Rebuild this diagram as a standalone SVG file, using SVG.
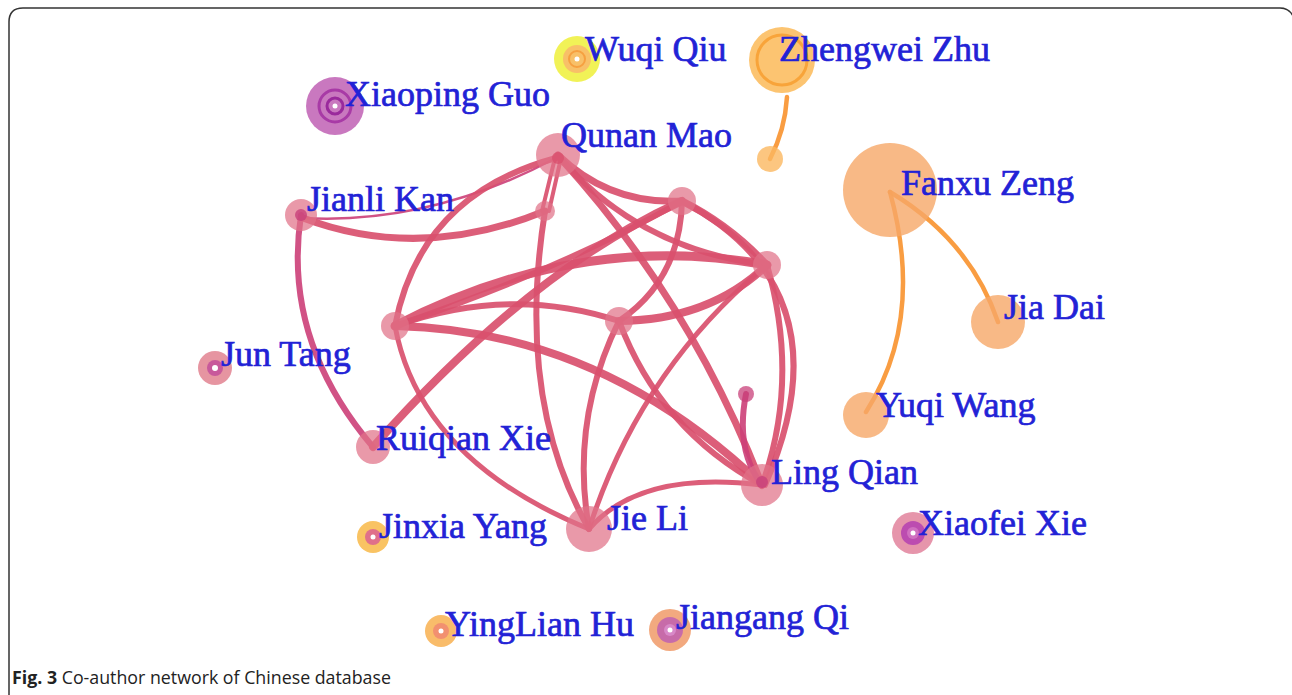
<svg xmlns="http://www.w3.org/2000/svg" width="1292" height="695" viewBox="0 0 1292 695">
<style>
.lbl{font-family:"Liberation Serif","Times New Roman",serif;font-size:36px;fill:#2222d6;stroke:#2222d6;stroke-width:0.7}
.e{fill:none;stroke:#d9506e;stroke-linecap:round;opacity:0.92}
.em{fill:none;stroke:#cc3f78;stroke-linecap:round;opacity:0.9}
.eo{fill:none;stroke:#f8922e;stroke-linecap:round;opacity:0.9}
.pk{fill:#e07288;opacity:0.72}
.pkc{fill:#d9506e;opacity:0.8}
.wd{fill:#ffffff}
</style>
<rect width="1292" height="695" fill="#ffffff"/>
<path d="M9,695 V22 Q9,8 23,8 H1280 Q1289,8 1293,16" fill="none" stroke="#333" stroke-width="1.5"/>

<g id="connectors">
  <path class="em" d="M301,215 Q282,340 373,447" stroke-width="6"/>
  <path class="em" d="M303,218 Q430,225 556,158" stroke-width="2.5"/>
  <path class="e" d="M303,218 Q420,262 545,211" stroke-width="7"/>
  <path class="e" d="M555,158 L542,211" stroke-width="4"/>
  <path class="e" d="M561,158 L549,211" stroke-width="4"/>
  <path class="e" d="M556,158 Q420,195 395,326" stroke-width="6"/>
  <path class="e" d="M395,326 Q420,460 589,529" stroke-width="5"/>
  <path class="e" d="M558,155 Q610,205 682,201" stroke-width="7"/>
  <path class="e" d="M560,158 Q640,250 767,265" stroke-width="6"/>
  <path class="e" d="M560,158 Q690,300 762,485" stroke-width="7"/>
  <path class="e" d="M682,201 Q850,290 765,485" stroke-width="6"/>
  <path class="e" d="M767,265 Q800,380 762,485" stroke-width="6"/>
  <path class="e" d="M682,201 Q730,225 767,265" stroke-width="7"/>
  <path class="e" d="M682,201 Q680,280 619,321" stroke-width="6"/>
  <path class="e" d="M682,201 Q560,270 395,326" stroke-width="6"/>
  <path class="e" d="M395,326 Q580,230 767,265" stroke-width="9"/>
  <path class="e" d="M395,326 Q510,285 619,321" stroke-width="6"/>
  <path class="e" d="M395,326 Q600,330 762,485" stroke-width="8"/>
  <path class="e" d="M619,321 Q710,320 767,265" stroke-width="8"/>
  <path class="e" d="M619,321 Q570,420 589,529" stroke-width="6"/>
  <path class="e" d="M619,321 Q660,430 762,485" stroke-width="6"/>
  <path class="e" d="M767,265 Q640,370 589,529" stroke-width="5"/>
  <path class="e" d="M589,529 Q640,470 762,485" stroke-width="5"/>
  <path class="e" d="M373,447 Q530,270 682,201" stroke-width="8"/>
  <path class="e" d="M545,211 Q515,400 589,529" stroke-width="6"/>
  <path class="em" d="M746,394 Q735,450 762,485" stroke-width="6"/>
  <path class="eo" d="M787,97 Q785,130 770,159" stroke-width="4.5"/>
  <path class="eo" d="M890,192 Q970,240 998,322" stroke-width="4.5"/>
  <path class="eo" d="M890,192 Q925,320 866,412" stroke-width="4.5"/>
</g>

<g id="n-unlabeled">
  <circle cx="770" cy="159" r="13" fill="#fbb860" opacity="0.8"/>
  <circle cx="545" cy="211" r="10" class="pk"/>
  <circle cx="682" cy="201" r="14" class="pk"/>
  <circle cx="767" cy="265" r="14" class="pk"/>
  <circle cx="395" cy="326" r="14" class="pk"/>
  <circle cx="619" cy="321" r="14" class="pk"/>
  <circle cx="746" cy="394" r="8" fill="#c8407a" opacity="0.75"/>
</g>

<g id="n-xiaoping-guo">
  <circle cx="335" cy="106" r="29" fill="#c060b4" opacity="0.85"/>
  <circle cx="335" cy="106" r="16" fill="none" stroke="#a83aa6" stroke-width="3"/>
  <circle cx="335" cy="106" r="8" fill="none" stroke="#9a2a9c" stroke-width="3"/>
  <circle cx="335" cy="106" r="2.5" class="wd"/>
  <text class="lbl" x="345" y="106">Xiaoping Guo</text>
</g>
<g id="n-wuqi-qiu">
  <circle cx="577" cy="59" r="23" fill="#eef03a" opacity="0.85"/>
  <circle cx="577" cy="59" r="14" fill="#f8c068"/>
  <circle cx="577" cy="59" r="8" fill="none" stroke="#f6a040" stroke-width="2"/>
  <circle cx="577" cy="59" r="2.5" class="wd"/>
  <text class="lbl" x="585" y="61">Wuqi Qiu</text>
</g>
<g id="n-zhengwei-zhu">
  <circle cx="782" cy="60" r="33" fill="#fbba58" opacity="0.85"/>
  <circle cx="782" cy="60" r="25" fill="none" stroke="#f8a43a" stroke-width="3"/>
  <text class="lbl" x="779" y="61">Zhengwei Zhu</text>
</g>
<g id="n-qunan-mao">
  <circle cx="558" cy="155" r="22" class="pk"/>
  <circle cx="558" cy="158" r="6" class="pkc"/>
  <text class="lbl" x="561" y="147">Qunan Mao</text>
</g>
<g id="n-fanxu-zeng">
  <circle cx="890" cy="190" r="47" fill="#f6a868" opacity="0.8"/>
  <text class="lbl" x="901" y="195">Fanxu Zeng</text>
</g>
<g id="n-jianli-kan">
  <circle cx="301" cy="215" r="16" class="pk"/>
  <circle cx="301" cy="215" r="6" fill="#c8407a" opacity="0.8"/>
  <text class="lbl" x="307" y="211">Jianli Kan</text>
</g>
<g id="n-jia-dai">
  <circle cx="998" cy="322" r="27" fill="#f6a868" opacity="0.8"/>
  <text class="lbl" x="1004" y="319">Jia Dai</text>
</g>
<g id="n-jun-tang">
  <circle cx="215" cy="368" r="17" fill="#e07a8a" opacity="0.8"/>
  <circle cx="215" cy="368" r="8" fill="#c04a9a" opacity="0.8"/>
  <circle cx="215" cy="368" r="3" class="wd"/>
  <text class="lbl" x="221" y="366">Jun Tang</text>
</g>
<g id="n-yuqi-wang">
  <circle cx="866" cy="415" r="23" fill="#f6a868" opacity="0.8"/>
  <text class="lbl" x="876" y="417">Yuqi Wang</text>
</g>
<g id="n-ruiqian-xie">
  <circle cx="373" cy="447" r="17" class="pk"/>
  <text class="lbl" x="376" y="450">Ruiqian Xie</text>
</g>
<g id="n-ling-qian">
  <circle cx="762" cy="485" r="21" class="pk"/>
  <circle cx="762" cy="482" r="6" fill="#c8407a" opacity="0.8"/>
  <text class="lbl" x="771" y="484">Ling Qian</text>
</g>
<g id="n-jinxia-yang">
  <circle cx="373" cy="537" r="16" fill="#f8b848" opacity="0.85"/>
  <circle cx="373" cy="537" r="8" fill="#e0708a"/>
  <circle cx="373" cy="537" r="2.5" class="wd"/>
  <text class="lbl" x="379" y="538">Jinxia Yang</text>
</g>
<g id="n-jie-li">
  <circle cx="589" cy="529" r="23" class="pk"/>
  <text class="lbl" x="607" y="530">Jie Li</text>
</g>
<g id="n-xiaofei-xie">
  <circle cx="913" cy="533" r="21" fill="#e07a96" opacity="0.8"/>
  <circle cx="913" cy="533" r="12" fill="#b440b0" opacity="0.85"/>
  <circle cx="913" cy="533" r="6" fill="#d070c0"/>
  <circle cx="913" cy="533" r="2.5" class="wd"/>
  <text class="lbl" x="918" y="535">Xiaofei Xie</text>
</g>
<g id="n-yinglian-hu">
  <circle cx="441" cy="631" r="16" fill="#f8b050" opacity="0.85"/>
  <circle cx="441" cy="631" r="8" fill="#f29070"/>
  <circle cx="441" cy="631" r="2.5" class="wd"/>
  <text class="lbl" x="445" y="636">YingLian Hu</text>
</g>
<g id="n-jiangang-qi">
  <circle cx="670" cy="630" r="21" fill="#f09a68" opacity="0.85"/>
  <circle cx="670" cy="630" r="13" fill="#c060b0" opacity="0.85"/>
  <circle cx="670" cy="630" r="6" fill="#d888c8"/>
  <circle cx="670" cy="630" r="2.5" class="wd"/>
  <text class="lbl" x="676" y="629">Jiangang Qi</text>
</g>

<text x="12" y="684" font-family="'Open Sans','Liberation Sans',sans-serif" font-size="17.8" fill="#222"><tspan font-weight="bold">Fig. 3</tspan> Co-author network of Chinese database</text>
</svg>
